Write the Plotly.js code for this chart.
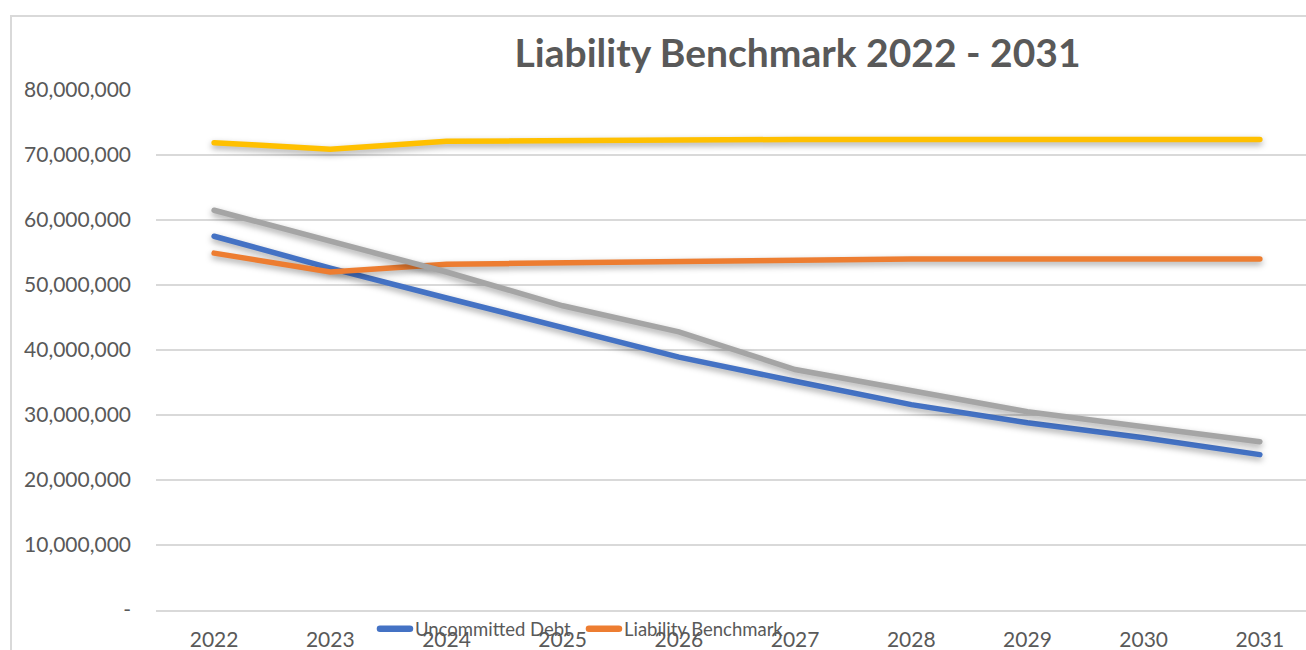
<!DOCTYPE html>
<html>
<head>
<meta charset="utf-8">
<script src="https://cdn.plot.ly/plotly-3.0.1.min.js"></script>
<style>
  html, body { margin: 0; padding: 0; background: #ffffff; }
  #wrap { position: relative; width: 1306px; height: 650px; overflow: hidden; }
  #chart { width: 1306px; height: 650px; }
  #frame { position: absolute; left: 10px; top: 15px; width: 1400px; height: 700px;
           border-left: 2px solid #d9d9d9; border-top: 2px solid #d9d9d9; pointer-events: none; }
  #chart .scatterlayer .js-line { stroke-linecap: round; filter: drop-shadow(0px 3px 3px rgba(0,0,0,0.35)); }
  #chart .legend .js-line { stroke-linecap: round; stroke-width: 6.5px !important; }
</style>
</head>
<body>
<div id="wrap">
  <div id="chart"></div>
  <div id="frame"></div>
</div>
<script>
const years = ['2022', '2023', '2024', '2025', '2026', '2027', '2028', '2029', '2030', '2031'];
const uncommittedDebt = [57500000, 52600000, 48000000, 43400000, 38900000, 35200000, 31600000, 28800000, 26500000, 23900000];
const liabilityBenchmark = [54900000, 52000000, 53200000, 53400000, 53600000, 54000000, 54000000, 54000000, 54000000, 54000000];
const series3 = [61500000, 56800000, 52000000, 46800000, 42800000, 37000000, 33800000, 30500000, 28200000, 25900000];
const series4 = [71900000, 70900000, 72100000, 72300000, 72300000, 72400000, 72400000, 72400000, 72400000, 72400000];
const yTickVals = [0, 10000000, 20000000, 30000000, 40000000, 50000000, 60000000, 70000000, 80000000];
const yTickText = ['-', '10,000,000', '20,000,000', '30,000,000', '40,000,000', '50,000,000', '60,000,000', '70,000,000', '80,000,000'];

const FONT = 'Lato, "Open Sans", sans-serif';
const GREY = '#595959';

function lineTrace(name, y, color, show) {
  return {
    type: 'scatter', mode: 'lines', name: name, x: years, y: y,
    line: { color: color, width: 5.5 }, showlegend: show, hoverinfo: 'skip'
  };
}

const data = [
  lineTrace('Uncommitted Debt', uncommittedDebt, '#4472C4', true),
  lineTrace('Liability Benchmark', liabilityBenchmark, '#ED7D31', true),
  lineTrace('Series 3', series3, '#A5A5A5', false),
  lineTrace('Series 4', series4, '#FFC000', false)
];

const layout = {
  width: 1306, height: 650,
  margin: { l: 156, r: 0, t: 90, b: 40, pad: 0 },
  paper_bgcolor: '#ffffff', plot_bgcolor: '#ffffff',
  font: { family: FONT, color: GREY, size: 21 },
  title: {
    text: '<b>Liability Benchmark 2022 - 2031</b>',
    font: { family: FONT, size: 39, color: GREY },
    x: 0.6107, xref: 'container', xanchor: 'center',
    y: 0.918, yref: 'container', yanchor: 'middle'
  },
  xaxis: {
    type: 'category', range: [-0.5, 9.397],
    showgrid: false, zeroline: false, showline: true, linecolor: '#d9d9d9', linewidth: 1.5,
    ticks: '', tickfont: { family: FONT, size: 21, color: GREY }, ticklabelstandoff: 10
  },
  yaxis: {
    range: [0, 80000000], tickmode: 'array', tickvals: yTickVals, ticktext: yTickText,
    showgrid: true, gridcolor: '#d9d9d9', gridwidth: 1.5, zeroline: false, showline: false,
    ticks: '', tickfont: { family: FONT, size: 21, color: GREY }, ticklabelstandoff: 24
  },
  showlegend: true,
  legend: {
    orientation: 'h', x: 0.1904, xanchor: 'left', y: -0.037, yanchor: 'middle',
    bgcolor: 'rgba(0,0,0,0)', font: { family: FONT, size: 18.5, color: GREY },
    itemwidth: 30, entrywidth: 164, entrywidthmode: 'pixels'
  }
};

Plotly.newPlot('chart', data, layout, { displayModeBar: false, staticPlot: true });
</script>
</body>
</html>
